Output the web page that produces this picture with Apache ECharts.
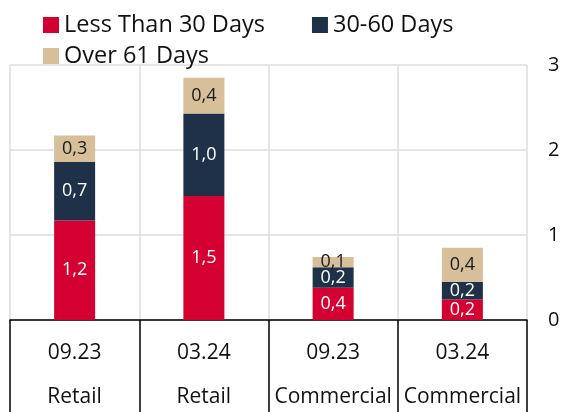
<!DOCTYPE html>
<html>
<head>
<meta charset="utf-8">
<script src="https://cdn.jsdelivr.net/npm/echarts@6/dist/echarts.min.js"></script>
<style>
  html, body { margin: 0; padding: 0; background: #fff; }
  #chart { width: 569px; height: 412px; }
</style>
</head>
<body>
<div id="chart"></div>
<script>
const periods = ["09.23", "03.24", "09.23", "03.24"];
const segments = ["Retail", "Retail", "Commercial", "Commercial"];
const seriesNames = ["Less Than 30 Days", "30-60 Days", "Over 61 Days"];
const lessThan30 = [1.17, 1.46, 0.38, 0.24];
const days30to60 = [0.69, 0.97, 0.24, 0.21];
const over61 = [0.31, 0.42, 0.12, 0.4];
const yTicks = [0, 1, 2, 3];

const colors = ["#d50032", "#1e3148", "#d6bf99"];
const labelColors = ["#ffffff", "#ffffff", "#1a1a1a"];
const font = "Open Sans";

const categories = periods.map((p, i) => p + "|" + segments[i]);

const chart = echarts.init(document.getElementById("chart"), null, { renderer: "canvas" });

const fmt = (v) => v.toFixed(1).replace(".", ",");

const series = [lessThan30, days30to60, over61].map((data, i) => ({
  name: seriesNames[i],
  type: "bar",
  stack: "total",
  barWidth: 41,
  data: data,
  itemStyle: { color: colors[i] },
  label: {
    show: true,
    position: "inside",
    color: labelColors[i],
    fontFamily: font,
    fontSize: 18,
    formatter: (p) => fmt(p.value),
  },
}));

const legendText = { fontFamily: font, fontSize: 23.5, color: "#111" };

const option = {
  animation: false,
  backgroundColor: "#fff",
  textStyle: { fontFamily: font },
  legend: [
    {
      data: [seriesNames[0], seriesNames[1]],
      left: 38,
      top: 8,
      icon: "rect",
      itemWidth: 16,
      itemHeight: 16,
      itemGap: 47,
      textStyle: legendText,
    },
    {
      data: [seriesNames[2]],
      left: 38,
      top: 39,
      icon: "rect",
      itemWidth: 16,
      itemHeight: 16,
      textStyle: legendText,
    },
  ],
  grid: { left: 10, right: 42, top: 65, bottom: 92, containLabel: false, outerBoundsMode: "none" },
  xAxis: {
    type: "category",
    data: categories,
    axisLine: { show: true, lineStyle: { color: "#000", width: 1.5 } },
    axisTick: { show: true, length: 92, lineStyle: { color: "#000", width: 1.5 } },
    splitLine: { show: true, lineStyle: { color: "#dcdcdc", width: 1.5 } },
    axisLabel: {
      interval: 0,
      margin: 11,
      color: "#111",
      fontFamily: font,
      fontSize: 21,
      lineHeight: 44,
      formatter: (v) => v.split("|").join("\n"),
    },
  },
  yAxis: {
    type: "value",
    position: "right",
    min: yTicks[0],
    max: yTicks[yTicks.length - 1],
    interval: 1,
    axisLine: { show: false },
    axisTick: { show: false },
    splitLine: { show: true, lineStyle: { color: "#dcdcdc", width: 1.5 } },
    axisLabel: { margin: 21, color: "#111", fontFamily: font, fontSize: 20 },
  },
  series,
};

chart.setOption(option);
</script>
</body>
</html>
